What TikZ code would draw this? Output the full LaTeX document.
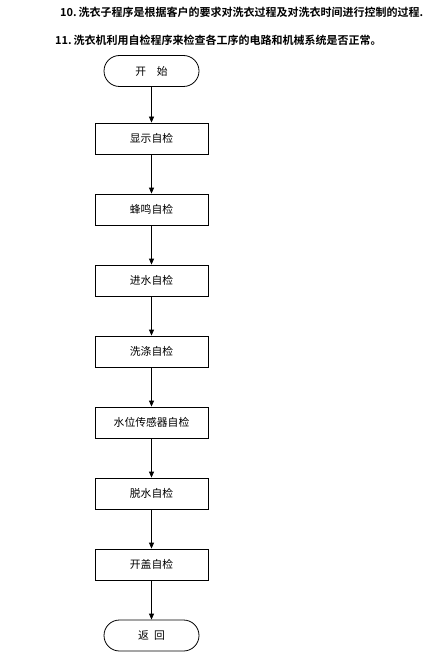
\documentclass[tikz,border=0pt]{standalone}
\usepackage{fontspec}
\setmainfont{Liberation Serif}
\newfontfamily\cjk{Noto Sans CJK SC}
\newfontfamily\cjkb{Noto Sans CJK SC Bold}
\usetikzlibrary{arrows.meta,shapes.misc}
\begin{document}
\begin{tikzpicture}[x=1pt,y=-1pt,
  stepbox/.style={draw,line width=0.8pt,minimum width=113pt,minimum height=31pt,inner sep=0pt,font=\cjk\fontsize{10.8}{12}\selectfont},
  termbox/.style={draw,line width=0.8pt,rounded rectangle,minimum width=95pt,minimum height=31pt,inner sep=0pt,font=\cjk\fontsize{10.8}{12}\selectfont},
  flow/.style={line width=0.8pt,-{Triangle[length=6pt,width=5pt]}},
  title/.style={anchor=west,inner sep=0pt,font=\cjkb\fontsize{11}{12}\selectfont}]
\useasboundingbox (0,0) rectangle (423,671);
\fill[white] (0,0) rectangle (423,671);
\node[title] (t1) at (60,12) {10.\,洗衣子程序是根据客户的要求对洗衣过程及对洗衣时间进行控制的过程.};
\node[title] (t2) at (55,40) {11.\,洗衣机利用自检程序来检查各工序的电路和机械系统是否正常。};
\node[termbox] (s) at (151.5,71) {开\quad 始};
\node[stepbox] (b1) at (151.5,138.5) {显示自检};
\node[stepbox] (b2) at (151.5,209.5) {蜂鸣自检};
\node[stepbox] (b3) at (151.5,280.5) {进水自检};
\node[stepbox] (b4) at (151.5,351.5) {洗涤自检};
\node[stepbox] (b5) at (151.5,422.5) {水位传感器自检};
\node[stepbox] (b6) at (151.5,493.5) {脱水自检};
\node[stepbox] (b7) at (151.5,564.5) {开盖自检};
\node[termbox] (e) at (151.5,635.5) {返\enspace 回};
\draw[flow] (s) -- (b1);
\draw[flow] (b1) -- (b2);
\draw[flow] (b2) -- (b3);
\draw[flow] (b3) -- (b4);
\draw[flow] (b4) -- (b5);
\draw[flow] (b5) -- (b6);
\draw[flow] (b6) -- (b7);
\draw[flow] (b7) -- (e);
\end{tikzpicture}
\end{document}
